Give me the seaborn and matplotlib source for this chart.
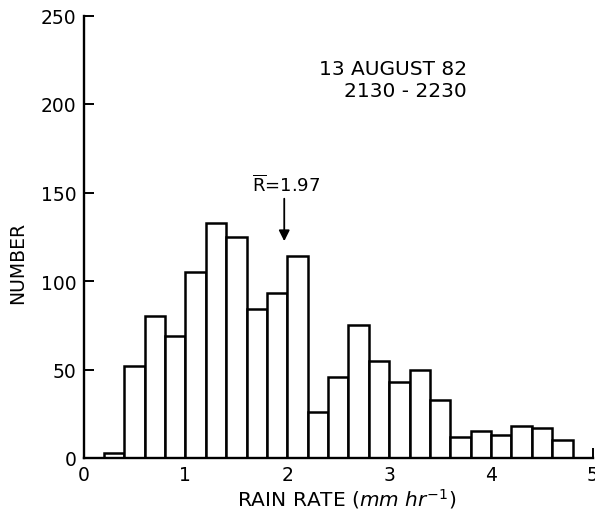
import matplotlib
matplotlib.use("Agg")
import matplotlib.pyplot as plt
import numpy as np
import pandas as pd
import seaborn as sns

# Rain-rate histogram, 0.2 mm/hr bins starting at 0.2
bin_edges = [0.2, 0.4, 0.6, 0.8, 1.0, 1.2, 1.4, 1.6, 1.8, 2.0, 2.2, 2.4,
             2.6, 2.8, 3.0, 3.2, 3.4, 3.6, 3.8, 4.0, 4.2, 4.4, 4.6, 4.8]
counts = [3, 52, 80, 69, 105, 133, 125, 84, 93, 114, 26,
          46, 75, 55, 43, 50, 33, 12, 15, 13, 18, 17, 10]
mean_rate = 1.97
x_ticks = [0, 1, 2, 3, 4, 5]
y_ticks = [0, 50, 100, 150, 200, 250]
date_text = "13 AUGUST 82"
time_text = "2130 - 2230"

sns.set_style("ticks")
plt.rcParams["font.family"] = ["DejaVu Sans"]
plt.rcParams["mathtext.fontset"] = "dejavusans"
plt.rcParams["text.color"] = "black"
plt.rcParams["axes.labelcolor"] = "black"
plt.rcParams["xtick.color"] = "black"
plt.rcParams["ytick.color"] = "black"

edges = np.array(bin_edges)
df = pd.DataFrame({"rate": (edges[:-1] + edges[1:]) / 2, "n": counts})

fig = plt.figure(figsize=(5.95, 5.1), dpi=100)
ax = fig.add_axes([83.5 / 595, 1 - 459 / 510, (593 - 83.5) / 595, (459 - 16.5) / 510])

sns.histplot(data=df, x="rate", weights="n", bins=list(bin_edges), stat="count",
             fill=True, color="white", edgecolor="black", linewidth=1.8,
             alpha=1, ax=ax)

ax.set_xlim(0, 5)
ax.set_ylim(0, 250)
ax.set_xticks(x_ticks)
ax.set_yticks(y_ticks)
ax.set_xticklabels([str(t) for t in x_ticks])
ax.set_yticklabels([str(t) for t in y_ticks])
sns.despine(ax=ax)
for side in ("left", "bottom"):
    ax.spines[side].set_linewidth(1.7)
    ax.spines[side].set_color("black")

ax.tick_params(axis="both", direction="in", length=7, width=1.4,
               colors="black", labelcolor="black", labelsize=13.5)
ax.tick_params(axis="y", pad=5)
ax.tick_params(axis="x", pad=5)

ax.set_xlabel(r"RAIN RATE ($\mathit{mm\ hr}^{-1}$)", fontsize=14.5, color="black")
ax.set_ylabel("NUMBER", fontsize=13.5, color="black")
ax.xaxis.set_label_coords(0.517, -0.064)
ax.yaxis.set_label_coords(-0.11, 0.443)

ax.text(3.76, 220.3, date_text, ha="right", va="center", fontsize=14.5, color="black")
ax.text(3.76, 207.9, time_text, ha="right", va="center", fontsize=14.5, color="black")

ax.text(1.65, 154.8, r"$\overline{\mathrm{R}}$=" + f"{mean_rate:.2f}",
        ha="left", va="center", fontsize=13, color="black")
ax.annotate("", xy=(mean_rate, 122.5), xytext=(mean_rate, 146.5),
            arrowprops=dict(arrowstyle="-|>", color="black", lw=1.3,
                            mutation_scale=16, shrinkA=0, shrinkB=0))

fig.savefig("out.png", dpi=100)
